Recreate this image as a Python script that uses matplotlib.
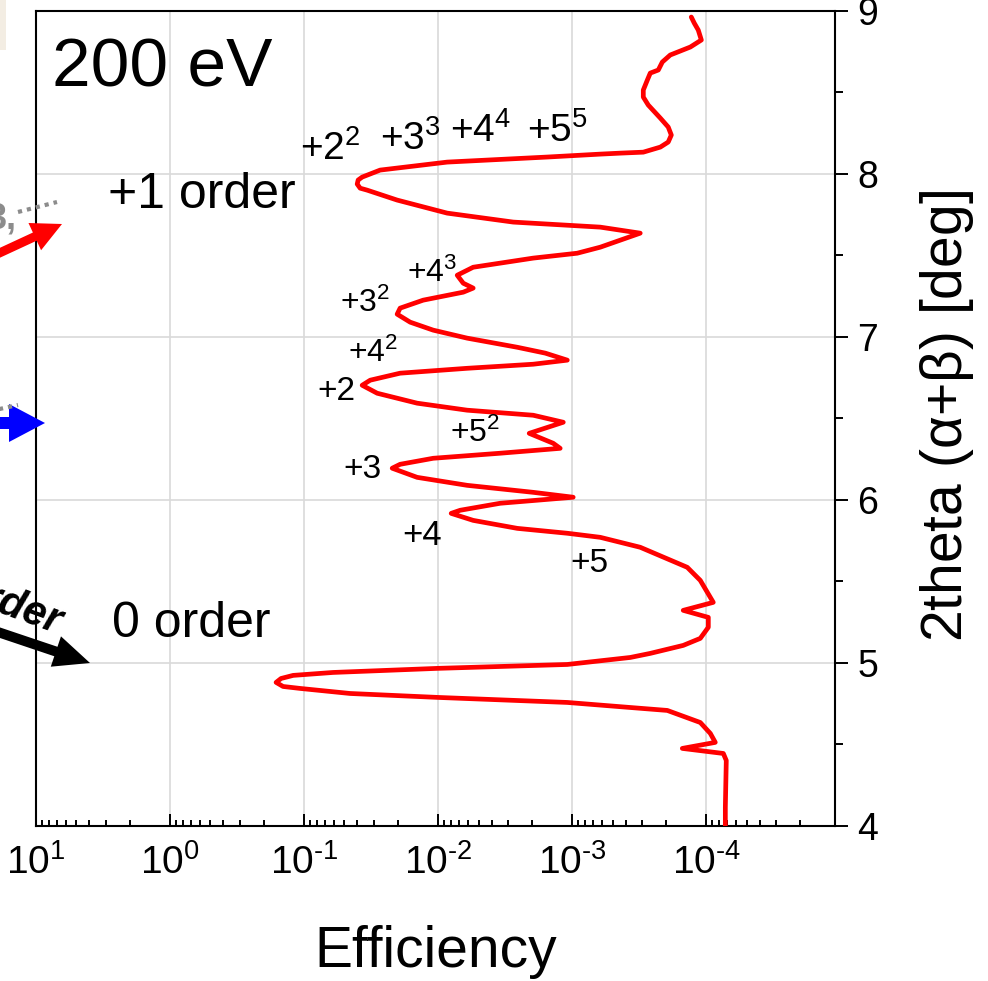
import matplotlib
matplotlib.use("Agg")
import matplotlib.pyplot as plt
import numpy as np
from matplotlib.patches import FancyArrow, Rectangle
from matplotlib.ticker import FuncFormatter, LogLocator, MultipleLocator

plt.rcParams["font.family"] = ["Liberation Sans", "DejaVu Sans"]
plt.rcParams["mathtext.default"] = "regular"

# efficiency curve, log10(efficiency) vs 2theta (deg), traced top to bottom
log_eff = [
    -3.888, -3.910, -3.940, -3.963, -3.881, -3.731, -3.672, -3.642, -3.582, -3.560,
    -3.530, -3.530, -3.567, -3.657, -3.716, -3.739, -3.716, -3.657, -3.530, -3.358,
    -3.209, -2.813, -2.067, -1.567, -1.433, -1.403, -1.396, -1.418, -1.470, -1.694,
    -2.067, -2.560, -3.209, -3.507, -3.209, -3.037, -2.709, -2.261, -2.142, -2.187,
    -2.261, -2.187, -1.888, -1.716, -1.694, -1.791, -1.963, -2.216, -2.590, -2.799,
    -2.963, -2.709, -2.216, -1.716, -1.493, -1.433, -1.545, -1.843, -2.216, -2.709,
    -2.933, -2.679, -2.858, -2.910, -2.463, -1.963, -1.716, -1.657, -1.843, -2.216,
    -2.709, -3.007, -2.463, -2.164, -2.097, -2.261, -2.590, -2.963, -3.209, -3.507,
    -3.858, -3.955, -4.052, -3.828, -4.015, -4.015, -3.955, -3.828, -3.582, -3.433,
    -2.963, -1.993, -1.216, -0.918, -0.828, -0.791, -0.843, -0.970, -1.343, -1.993,
    -2.963, -3.433, -3.709, -3.955, -4.030, -4.067, -3.821, -4.127, -4.149, -4.142,
    -4.142,
]
two_theta = [
    8.963, 8.926, 8.883, 8.822, 8.779, 8.730, 8.687, 8.638, 8.619, 8.576,
    8.515, 8.472, 8.423, 8.343, 8.288, 8.239, 8.196, 8.165, 8.134, 8.128,
    8.122, 8.104, 8.073, 8.024, 7.981, 7.963, 7.938, 7.913, 7.901, 7.840,
    7.760, 7.705, 7.674, 7.637, 7.551, 7.514, 7.484, 7.428, 7.379, 7.330,
    7.300, 7.275, 7.226, 7.177, 7.140, 7.091, 7.042, 6.993, 6.937, 6.901,
    6.858, 6.833, 6.808, 6.778, 6.735, 6.704, 6.655, 6.594, 6.551, 6.520,
    6.477, 6.409, 6.348, 6.317, 6.287, 6.256, 6.219, 6.195, 6.139, 6.090,
    6.047, 6.017, 5.980, 5.937, 5.918, 5.875, 5.826, 5.796, 5.771, 5.710,
    5.587, 5.507, 5.372, 5.323, 5.280, 5.219, 5.151, 5.108, 5.059, 5.034,
    4.991, 4.967, 4.942, 4.924, 4.905, 4.881, 4.856, 4.844, 4.813, 4.789,
    4.758, 4.727, 4.709, 4.635, 4.568, 4.513, 4.476, 4.445, 4.402, 4.114,
    4.000,
]

# diffraction order labels: text, log10(efficiency), 2theta, fontsize
order_labels = ["+2$^{2}$", "+3$^{3}$", "+4$^{4}$", "+5$^{5}$",
                "+4$^{3}$", "+3$^{2}$", "+4$^{2}$", "+2", "+5$^{2}$", "+3", "+4", "+5"]
order_log_x = [-0.970, -1.567, -2.090, -2.664,
               -1.769, -1.269, -1.328, -1.097, -2.090, -1.291, -1.731, -2.985]
order_y = [8.085, 8.147, 8.196, 8.196,
           7.336, 7.152, 6.845, 6.612, 6.354, 6.133, 5.722, 5.556]
order_size = [28, 28, 28, 28, 23, 23, 23, 24, 23, 24, 25, 24]

W, H, DPI = 988, 981, 100
fig = plt.figure(figsize=(W / DPI, H / DPI), dpi=DPI)
ax = fig.add_axes([36 / W, 1 - 826 / H, (835 - 36) / W, (826 - 11) / H])

eff = 10.0 ** np.array(log_eff)
ax.plot(eff, two_theta, color="#ff0000", lw=3.4, solid_joinstyle="round",
        solid_capstyle="round", zorder=3)

ax.set_xscale("log")
ax.set_xlim(10, 10 ** -4.96)
ax.set_ylim(4, 9)
ax.xaxis.set_major_locator(LogLocator(base=10, numticks=20))
ax.xaxis.set_minor_locator(LogLocator(base=10, subs=np.arange(2, 10), numticks=20))
ax.xaxis.set_major_formatter(FuncFormatter(
    lambda v, pos: r"$\mathregular{10^{%s}}$" % str(round(np.log10(v))).replace("-", "\u2010")))
ax.yaxis.set_major_locator(MultipleLocator(1))
ax.yaxis.set_minor_locator(MultipleLocator(0.5))
ax.yaxis.tick_right()
ax.yaxis.set_label_position("right")

ax.tick_params(axis="x", which="both", direction="in", top=False, width=1.4,
               labelsize=28, pad=13)
ax.tick_params(axis="x", which="major", length=9)
ax.tick_params(axis="x", which="minor", length=4.5)
ax.tick_params(axis="y", which="both", direction="out", left=False, right=True,
               width=1.4, labelsize=27, pad=7)
ax.tick_params(axis="y", which="major", length=9)
ax.tick_params(axis="y", which="minor", length=6)
for sp in ax.spines.values():
    sp.set_linewidth(1.5)

ax.grid(True, which="major", color="#d9d9d9", lw=1.2)
ax.set_axisbelow(True)

ax.set_xlabel("Efficiency", fontsize=41)
ax.xaxis.set_label_coords(0.5, -0.122)
ax.set_ylabel(r"2theta ($\alpha$+$\beta$) [deg]", fontsize=41, rotation=90)
ax.yaxis.set_label_coords(1.104, 0.503)

ax.text(0.020, 0.907, "200 eV", transform=ax.transAxes, fontsize=50, va="baseline")
ax.text(0.090, 0.758, "+1 order", transform=ax.transAxes, fontsize=36, va="baseline")
ax.text(0.095, 0.232, "0 order", transform=ax.transAxes, fontsize=36, va="baseline")

for txt, lx, ly, fs in zip(order_labels, order_log_x, order_y, order_size):
    ax.text(10.0 ** lx, ly, txt, fontsize=fs, va="baseline", ha="left")


# pieces of the neighbouring panel that spill over the left edge
def px(x, y):
    return x / DPI, (H - y) / DPI


def arrow(tail, tip, color, shaft, head_w, head_l):
    (x0, y0), (x1, y1) = px(*tail), px(*tip)
    fig.add_artist(FancyArrow(x0, y0, x1 - x0, y1 - y0, width=shaft / DPI,
                              head_width=head_w / DPI, head_length=head_l / DPI,
                              length_includes_head=True, color=color, lw=0,
                              transform=fig.dpi_scale_trans, clip_on=False))


fig.add_artist(Rectangle(px(0, 50), 6 / DPI, 50 / DPI, color="#f3ede3", lw=0,
                         transform=fig.dpi_scale_trans))
arrow((-20, 262), (62, 224), "#ff0000", 9, 30, 30)
arrow((-20, 423), (45, 423), "#0000ff", 12, 38, 36)
arrow((-20, 626), (90, 663), "black", 10, 32, 36)

gx, gy = zip(px(18, 212), px(57, 202))
fig.add_artist(plt.Line2D(gx, gy, color="#8c8c8c", lw=3, ls=(0, (1, 1.2)),
                          transform=fig.dpi_scale_trans))
gx, gy = zip(px(-5, 410), px(18, 405))
fig.add_artist(plt.Line2D(gx, gy, color="#8c8c8c", lw=3, ls=(0, (1, 1.2)),
                          transform=fig.dpi_scale_trans))
fig.text(*px(16, 228), "3,", fontsize=26, fontweight="bold", color="#8c8c8c",
         ha="right", va="baseline", transform=fig.dpi_scale_trans)
fig.text(*px(56, 634), "+1 order", fontsize=30, fontweight="bold", fontstyle="italic",
         rotation=-20, rotation_mode="anchor", ha="right", va="baseline",
         transform=fig.dpi_scale_trans)

fig.savefig("out.png", dpi=DPI)
